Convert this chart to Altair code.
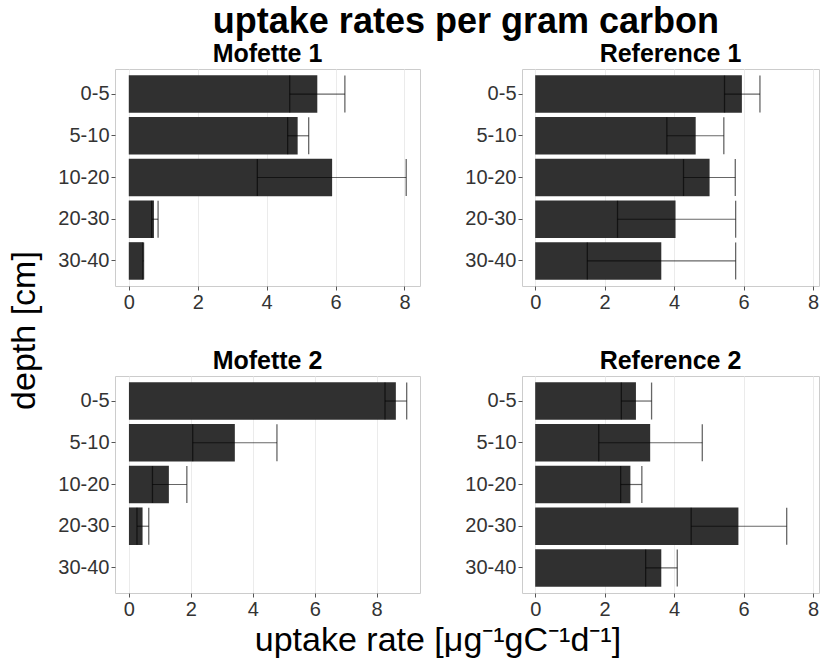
import altair as alt
import pandas as pd

depths = ["0-5", "5-10", "10-20", "20-30", "30-40"]
sites = ["Mofette 1", "Reference 1", "Mofette 2", "Reference 2"]

mofette1_mean = [5.47, 4.90, 5.90, 0.73, 0.42]
mofette1_low = [4.67, 4.61, 3.73, 0.665, 0.41]
mofette1_high = [6.27, 5.22, 8.05, 0.85, 0.43]

reference1_mean = [5.95, 4.62, 5.02, 4.04, 3.63]
reference1_low = [5.45, 3.79, 4.27, 2.37, 1.50]
reference1_high = [6.47, 5.43, 5.76, 5.77, 5.77]

mofette2_depths = ["0-5", "5-10", "10-20", "20-30"]
mofette2_mean = [8.62, 3.42, 1.29, 0.44]
mofette2_low = [8.27, 2.06, 0.76, 0.26]
mofette2_high = [8.97, 4.78, 1.87, 0.64]

reference2_mean = [2.90, 3.31, 2.74, 5.85, 3.63]
reference2_low = [2.48, 1.83, 2.46, 4.49, 3.18]
reference2_high = [3.35, 4.81, 3.07, 7.24, 4.09]

FONT = "Liberation Sans"


def frame(dep, mean, low, high):
    return pd.DataFrame({"depth": dep, "rate": mean, "lower": low, "upper": high})


panels = {
    "Mofette 1": (frame(depths, mofette1_mean, mofette1_low, mofette1_high), [-0.40, 8.45], 305),
    "Reference 1": (frame(depths, reference1_mean, reference1_low, reference1_high), [-0.38, 8.17], 297),
    "Mofette 2": (frame(mofette2_depths, mofette2_mean, mofette2_low, mofette2_high), [-0.45, 9.40], 305),
    "Reference 2": (frame(depths, reference2_mean, reference2_low, reference2_high), [-0.38, 8.17], 297),
}

H = 217


def panel(name):
    df, domain, width = panels[name]
    odd = "datum.value % 2 != 0"
    xaxis = alt.Axis(
        values=list(range(0, 10)),
        labelExpr="datum.value % 2 == 0 ? datum.label : ''",
        tickOpacity={"condition": {"test": odd, "value": 0}, "value": 1},
        gridColor={"condition": {"test": odd, "value": "#f5f5f5"}, "value": "#ebebeb"},
        domain=False,
        title=None,
    )
    xscale = alt.Scale(domain=domain, nice=False, zero=False)
    yenc = alt.Y(
        "depth:N",
        sort=depths,
        scale=alt.Scale(domain=depths, paddingInner=0.1, paddingOuter=0.15),
        axis=alt.Axis(title=None, bandPosition=0.5, domain=False, gridColor="#ebebeb"),
    )
    base = alt.Chart(df).encode(y=yenc)
    bars = base.mark_bar(color="#303030").encode(
        x=alt.X("rate:Q", scale=xscale, axis=xaxis), x2=alt.datum(0)
    )
    err = base.mark_rule(color="black", opacity=0.6, strokeWidth=1.2).encode(
        x=alt.X("lower:Q", scale=xscale), x2="upper:Q"
    )
    caps = (
        base.transform_fold(["lower", "upper"], as_=["end", "endval"])
        .mark_tick(color="black", opacity=0.6, thickness=1.3, size=37, orient="vertical")
        .encode(x=alt.X("endval:Q", scale=xscale))
    )
    return alt.layer(bars, err, caps).properties(
        width=width,
        height=H,
        title=alt.TitleParams(name, fontSize=25, fontWeight="bold", font=FONT, color="black", offset=2),
    )


row1 = alt.hconcat(panel("Mofette 1"), panel("Reference 1"), spacing=43)
row2 = alt.hconcat(panel("Mofette 2"), panel("Reference 2"), spacing=43)
grid = alt.vconcat(row1, row2, spacing=35).properties(
    title=alt.TitleParams("depth [cm]", orient="left", anchor="middle", fontSize=34, fontWeight="normal", font=FONT, color="black", offset=15)
)
mid = alt.vconcat(grid).properties(
    title=alt.TitleParams("uptake rate [μg⁻¹gC⁻¹d⁻¹]", orient="bottom", anchor="middle", fontSize=34, fontWeight="normal", font=FONT, color="black", offset=4, dx=24)
)
chart = (
    alt.vconcat(mid)
    .properties(
        title=alt.TitleParams("uptake rates per gram carbon", fontSize=36, fontWeight="bold", font=FONT, color="black", anchor="middle", offset=1, dx=52),
        padding={"left": 8, "top": 3, "right": 2, "bottom": 2},
    )
    .configure_view(stroke="#cccccc", strokeWidth=1)
    .configure_axis(
        labelFont=FONT,
        labelFontSize=20,
        labelColor="#333333",
        tickColor="#555555",
        tickSize=4,
        labelPadding=2,
        gridWidth=1,
    )
    .configure_concat(spacing=0)
)

chart.save("out.html", embed_options={"renderer": "svg", "actions": False})
